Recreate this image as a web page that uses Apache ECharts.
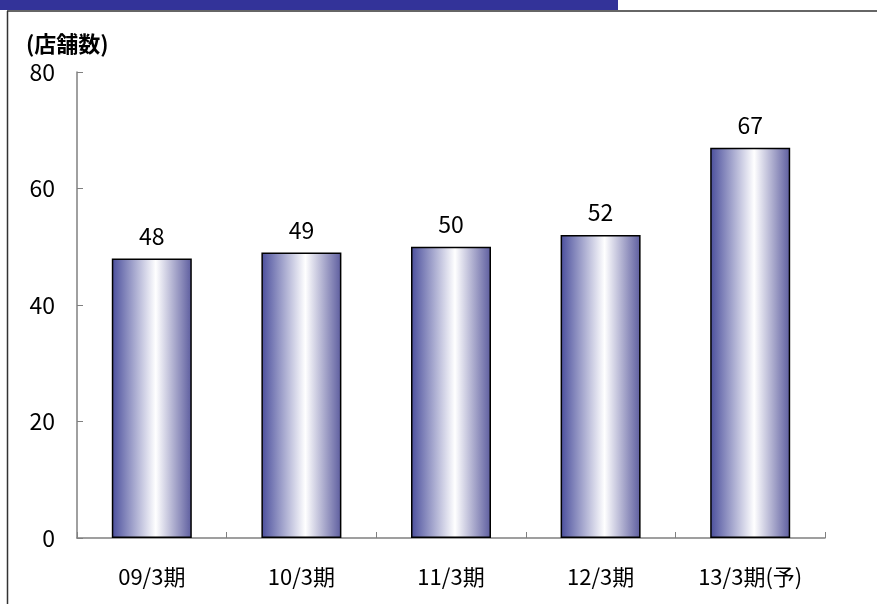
<!DOCTYPE html>
<html><head><meta charset="utf-8">
<script src="https://cdn.jsdelivr.net/npm/echarts@6/dist/echarts.min.js"></script>
<style>html,body{margin:0;padding:0;background:#fff}#c{width:877px;height:604px}</style>
</head><body><div id="c"></div>
<script>
const categories = ['09/3期','10/3期','11/3期','12/3期','13/3期(予)'];
const stores = [48, 49, 50, 52, 67];
const yTicks = [0, 20, 40, 60, 80];
const unitLabel = '(店舗数)';

const font = '"Noto Sans CJK JP", sans-serif';
const chart = echarts.init(document.getElementById('c'));
chart.setOption({
  animation: false,
  backgroundColor: '#fff',
  grid: { left: 77, right: 52, top: 72, bottom: 66 },
  graphic: [
    { type: 'rect', shape: { x: 0, y: 0, width: 618, height: 10 }, style: { fill: '#333399' } },
    { type: 'line', shape: { x1: 7, y1: 11, x2: 877, y2: 11 }, style: { stroke: '#333', lineWidth: 1.5 } },
    { type: 'line', shape: { x1: 7.5, y1: 11, x2: 7.5, y2: 604 }, style: { stroke: '#333', lineWidth: 1.5 } },
    { type: 'text', left: 26, top: 33, style: { text: unitLabel, font: 'bold 22px ' + font, fill: '#000' } }
  ],
  xAxis: {
    type: 'category', data: categories,
    axisLine: { lineStyle: { color: '#808080', width: 1.5 } },
    axisTick: { show: true, inside: true, length: 6, alignWithLabel: false, lineStyle: { color: '#808080' } },
    axisLabel: { color: '#000', fontSize: 22, fontFamily: font, margin: 28, interval: 0 }
  },
  yAxis: {
    type: 'value', min: yTicks[0], max: yTicks[yTicks.length - 1], interval: 20,
    axisLine: { show: true, lineStyle: { color: '#808080', width: 1.5 } },
    axisTick: { show: true, inside: true, length: 6, lineStyle: { color: '#808080' } },
    splitLine: { show: false },
    axisLabel: { color: '#000', fontSize: 23, fontFamily: font, margin: 22 }
  },
  series: [{
    type: 'bar', data: stores, barWidth: 80,
    itemStyle: {
      borderColor: '#000', borderWidth: 1.5,
      color: new echarts.graphic.LinearGradient(0, 0, 1, 0, [
        { offset: 0, color: '#4a4e9c' },
        { offset: 0.55, color: '#ffffff' },
        { offset: 1, color: '#5c5c9e' }
      ])
    },
    label: { show: true, position: 'top', distance: 11, color: '#000', fontSize: 23, fontFamily: font }
  }]
});
</script></body></html>
